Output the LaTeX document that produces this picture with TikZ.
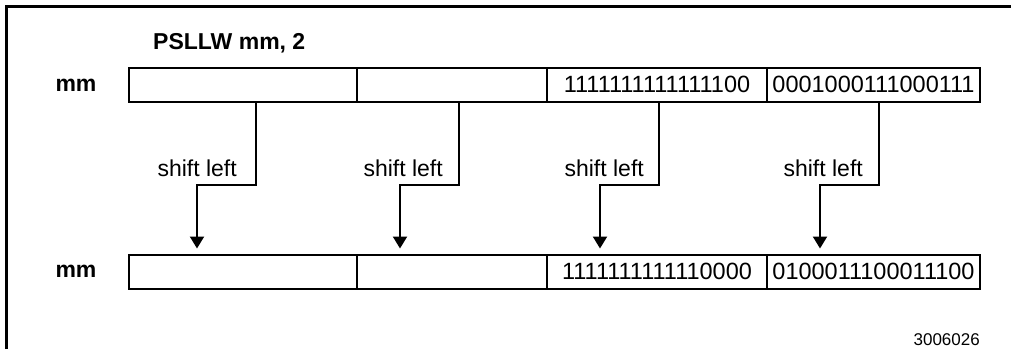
\documentclass[tikz,border=0pt]{standalone}
\usepackage{fontspec}
\setmainfont{Liberation Sans}
\usetikzlibrary{arrows.meta}
\begin{document}
\begin{tikzpicture}[x=1pt,y=-1pt,
  cell/.style={draw,line width=2pt,minimum height=34pt,inner sep=0pt,font=\fontsize{23.5}{26}\selectfont},
  lbl/.style={font=\fontsize{23}{26}\selectfont\bfseries,inner sep=0pt},
  shl/.style={font=\fontsize{23}{26}\selectfont,inner sep=0pt,anchor=east},
  arr/.style={line width=2pt,-{Triangle[width=14pt,length=12pt]},shorten >=5pt}]
\useasboundingbox (0,0) rectangle (1011,349);
\draw[line width=2.2pt] (6.5,349) -- (6.5,6.5) -- (1011,6.5);
\node[lbl,anchor=west] (title) at (153,43) {PSLLW mm, 2};
\node[lbl] (mmt) at (76,85) {mm};
\node[lbl] (mmb) at (76,271) {mm};
% top row
\node[cell,minimum width=228pt] (t1) at (243,84.5) {};
\node[cell,minimum width=190pt] (t2) at (452,84.5) {};
\node[cell,minimum width=220pt] (t3) at (657,84.5) {1111111111111100};
\node[cell,minimum width=213pt] (t4) at (873.5,84.5) {0001000111000111};
% bottom row
\node[cell,minimum width=228pt] (b1) at (243,271.5) {};
\node[cell,minimum width=190pt] (b2) at (452,271.5) {};
\node[cell,minimum width=220pt] (b3) at (657,271.5) {1111111111110000};
\node[cell,minimum width=213pt] (b4) at (873.5,271.5) {0100011100011100};
% bends
\coordinate (k1) at (197,185);
\coordinate (k2) at (400,185);
\coordinate (k3) at (600,185);
\coordinate (k4) at (820,185);
\draw[arr] ([xshift=13pt]t1.south) |- (k1) -- (k1 |- b1.north);
\draw[arr] ([xshift=7pt]t2.south) |- (k2) -- (k2 |- b2.north);
\draw[arr] ([xshift=2pt]t3.south) |- (k3) -- (k3 |- b3.north);
\draw[arr] ([xshift=5.5pt]t4.south) |- (k4) -- (k4 |- b4.north);
\node[shl] (s1) at (237,168) {shift left};
\node[shl] (s2) at (443,168) {shift left};
\node[shl] (s3) at (644,168) {shift left};
\node[shl] (s4) at (863,168) {shift left};
\node[font=\fontsize{17}{19}\selectfont,inner sep=0pt,anchor=east] (fig) at (980,339.5) {3006026};
\end{tikzpicture}
\end{document}
